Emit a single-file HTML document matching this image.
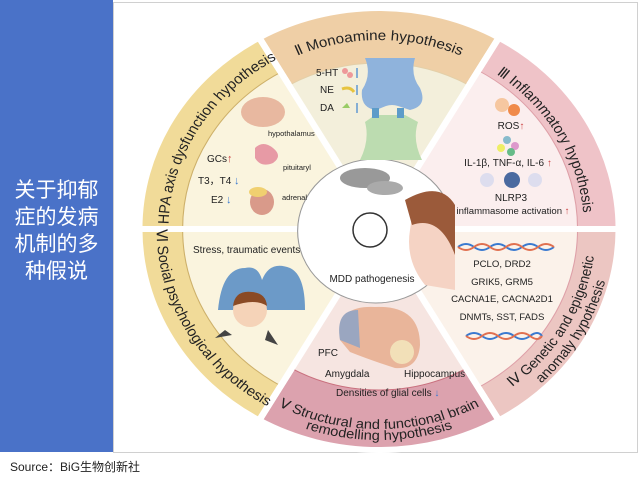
<!DOCTYPE html>
<html><head><meta charset="utf-8"><style>
html,body{margin:0;padding:0;width:640px;height:477px;overflow:hidden;background:#fff;font-family:"Liberation Sans","Noto Sans CJK SC",sans-serif;}
#blue{position:absolute;left:0;top:0;width:113px;height:452px;background:#4a72c8;}
#blue div{position:absolute;left:0;top:176px;width:113px;text-align:center;color:#fff;font-size:21px;line-height:27px;font-family:"Noto Sans CJK SC","WenQuanYi Zen Hei",sans-serif;}
#src{position:absolute;left:10px;top:458px;font-size:12px;color:#222;font-family:"Liberation Sans","Noto Sans CJK SC",sans-serif;}
svg{position:absolute;left:0;top:0;}
</style></head><body>
<div id="blue"><div>关于抑郁<br>症的发病<br>机制的多<br>种假说</div></div>
<div id="src">Source：BiG生物创新社</div>
<svg width="640" height="477" viewBox="0 0 640 477" font-family="Liberation Sans, sans-serif">
<rect x="113.5" y="2.5" width="524" height="450" fill="#fff" stroke="#d0d0d0"/>
<g transform="translate(379,229) scale(1.085,1)">
 <defs>
  <path id="pTop" d="M-94.5,-163.7 A189,189 0 0 1 94.5,-163.7"/>
  <path id="pHPA" d="M-194,0 A194,194 0 0 1 -97,-168"/>
  <path id="pInf" d="M94.5,-163.7 A189,189 0 0 1 189,0"/>
  <path id="pGen1" d="M100,173.2 A200,200 0 0 0 200,0"/>
  <path id="pGen2" d="M107.5,186.2 A215,215 0 0 0 215,0"/>
  <path id="pStr1" d="M-100,173.2 A200,200 0 0 0 100,173.2"/>
  <path id="pStr2" d="M-105.5,182.7 A211,211 0 0 0 105.5,182.7"/>
  <path id="pSoc" d="M-205,0 A205,205 0 0 0 -102.5,177.5"/>
 </defs>
 <g stroke="#fff" stroke-width="6">
  <path d="M0,0 L-110.5,-191.4 A221,221 0 0 1 110.5,-191.4Z" fill="#efcfa6"/>
  <path d="M0,0 L110.5,-191.4 A221,221 0 0 1 221,0Z" fill="#efc3c8"/>
  <path d="M0,0 L221,0 A221,221 0 0 1 110.5,191.4Z" fill="#ecc6c2"/>
  <path d="M0,0 L110.5,191.4 A221,221 0 0 1 -110.5,191.4Z" fill="#dca2ae"/>
  <path d="M0,0 L-110.5,191.4 A221,221 0 0 1 -221,0Z" fill="#f1db99"/>
  <path d="M0,0 L-221,0 A221,221 0 0 1 -110.5,-191.4Z" fill="#f1db99"/>
 </g>
 <g stroke-width="1">
  <path d="M0,0 L-83,-143.8 A166,166 0 0 1 83,-143.8Z" fill="#f3efdb" stroke="#e3cfa8"/>
  <path d="M0,0 L91.5,-158.5 A183,183 0 0 1 183,0Z" fill="#fbeeee" stroke="#dea0a8"/>
  <path d="M0,0 L183,0 A183,183 0 0 1 91.5,158.5Z" fill="#fbf2ea" stroke="#dea0a8"/>
  <path d="M0,0 L80.5,139.4 A161,161 0 0 1 -80.5,139.4Z" fill="#f6e5e1" stroke="#c9707e"/>
  <path d="M0,0 L-90.5,156.8 A181,181 0 0 1 -181,0Z" fill="#faf4de" stroke="#cdb06a"/>
  <path d="M0,0 L-181,0 A181,181 0 0 1 -90.5,-156.8Z" fill="#faf4de" stroke="#cdb06a"/>
 </g>
 <g stroke="#fff" stroke-width="6" fill="none">
  <line x1="0" y1="0" x2="-112" y2="-194"/><line x1="0" y1="0" x2="112" y2="-194"/>
  <line x1="0" y1="0" x2="224" y2="0"/><line x1="0" y1="0" x2="-224" y2="0"/>
  <line x1="0" y1="0" x2="112" y2="194"/><line x1="0" y1="0" x2="-112" y2="194"/>
 </g>
 <circle cx="-3" cy="2" r="72" fill="#fff" stroke="#999" stroke-width="1"/>
 <g font-size="14" fill="#222">
  <text><textPath href="#pTop" startOffset="50%" text-anchor="middle">Ⅱ Monoamine hypothesis</textPath></text>
  <text><textPath href="#pHPA" startOffset="50%" text-anchor="middle">Ⅰ HPA axis dysfunction hypothesis</textPath></text>
  <text><textPath href="#pInf" startOffset="50%" text-anchor="middle">Ⅲ Inflammatory hypothesis</textPath></text>
  <text font-size="13.5"><textPath href="#pGen1" startOffset="50%" text-anchor="middle">Ⅳ Genetic and epigenetic</textPath></text>
  <text font-size="13.5"><textPath href="#pGen2" startOffset="50%" text-anchor="middle">anomaly hypothesis</textPath></text>
  <text font-size="13.5"><textPath href="#pStr1" startOffset="50%" text-anchor="middle">Ⅴ Structural and functional brain</textPath></text>
  <text font-size="13.5"><textPath href="#pStr2" startOffset="50%" text-anchor="middle">remodelling hypothesis</textPath></text>
  <text><textPath href="#pSoc" startOffset="50%" text-anchor="middle">Ⅵ Social psychological hypothesis</textPath></text>
 </g>
</g>
<!-- Monoamine content -->
<path d="M365,58 Q372,75 362,90 Q360,108 376,110 L386,106 Q392,104 398,106 L410,110 Q428,106 420,88 Q410,75 415,58Z" fill="#8fb3dc"/>
<path d="M360,160 Q370,140 365,122 L375,115 L405,115 L418,122 Q412,140 422,160Z" fill="#bcdcb0"/>
<rect x="372" y="108" width="7" height="10" fill="#5d9cc9"/><rect x="397" y="108" width="7" height="10" fill="#5d9cc9"/>
<g font-size="10" fill="#222"><text x="316" y="76">5-HT</text><text x="320" y="93">NE</text><text x="320" y="111">DA</text></g>
<circle cx="345" cy="71" r="3" fill="#e99"/><circle cx="350" cy="75" r="3" fill="#e99"/>
<path d="M342,89 Q350,86 354,92" stroke="#e7c440" stroke-width="3" fill="none"/>
<path d="M342,108 l5,-5 l3,5z" fill="#9c6"/>
<g stroke="#4a8ad0" stroke-width="1.3" fill="#4a8ad0"><line x1="357" y1="68" x2="357" y2="78"/><line x1="357" y1="85" x2="357" y2="95"/><line x1="357" y1="103" x2="357" y2="113"/></g>
<!-- HPA -->
<ellipse cx="263" cy="112" rx="22" ry="15" fill="#e8b8a0"/>
<path d="M255,148 q8,-8 18,0 q10,8 0,15 q-12,5 -18,-5z" fill="#e79aa5"/>
<ellipse cx="262" cy="202" rx="12" ry="13" fill="#d99a8a"/><ellipse cx="258" cy="192" rx="9" ry="5" fill="#f0d070"/>
<g font-size="10" fill="#222"><text x="207" y="162">GCs</text><text x="198" y="184">T3，T4</text><text x="211" y="203">E2</text></g>
<g font-size="7.5" fill="#222"><text x="268" y="136">hypothalamus</text><text x="283" y="170">pituitaryl</text><text x="282" y="200">adrenal</text></g>
<text x="227" y="162" font-size="11" fill="#c44">↑</text><text x="234" y="184" font-size="11" fill="#3a7ad0">↓</text><text x="226" y="203" font-size="11" fill="#3a7ad0">↓</text>
<!-- Inflammatory -->
<circle cx="502" cy="105" r="7" fill="#f6c7a0"/><circle cx="514" cy="110" r="6" fill="#f08a4a"/>
<circle cx="507" cy="140" r="4" fill="#8bc"/><circle cx="515" cy="146" r="4" fill="#d9c"/><circle cx="501" cy="148" r="4" fill="#ee6"/><circle cx="511" cy="152" r="4" fill="#6b8"/>
<circle cx="487" cy="180" r="7" fill="#dde"/><circle cx="512" cy="180" r="8" fill="#4a6aa0"/><circle cx="535" cy="180" r="7" fill="#dde"/>
<g font-size="10" fill="#222" text-anchor="middle"><text x="511" y="129">ROS<tspan fill="#c44">↑</tspan></text><text x="508" y="166">IL-1β, TNF-α, IL-6 <tspan fill="#c44">↑</tspan></text><text x="511" y="201">NLRP3</text><text x="513" y="214" font-size="9.6">inflammasome activation <tspan fill="#c44">↑</tspan></text></g>
<!-- center -->
<ellipse cx="365" cy="178" rx="25" ry="10" fill="#999"/><ellipse cx="385" cy="188" rx="18" ry="7" fill="#aaa"/>
<circle cx="370" cy="230" r="17" fill="none" stroke="#333" stroke-width="1.5"/>
<path d="M415,195 Q450,190 455,230 L455,290 L425,285 Q405,260 410,230Z" fill="#f5d3c4"/>
<path d="M405,200 Q440,180 455,205 L455,255 Q440,215 412,225Z" fill="#9b5a3a"/>
<text x="372" y="282" font-size="10" fill="#222" text-anchor="middle">MDD pathogenesis</text>
<!-- Genetic -->
<path d="M458,247 q8,-6 16,0 t16,0 t16,0 t16,0 t16,0 t16,0" stroke="#3a7ad0" fill="none" stroke-width="2"/>
<path d="M458,247 q8,6 16,0 t16,0 t16,0 t16,0 t16,0 t16,0" stroke="#e07050" fill="none" stroke-width="2"/>
<path d="M466,336 q8,-6 16,0 t16,0 t16,0 t16,0 t12,0" stroke="#3a7ad0" fill="none" stroke-width="2"/>
<path d="M466,336 q8,6 16,0 t16,0 t16,0 t16,0 t12,0" stroke="#e07050" fill="none" stroke-width="2"/>
<g font-size="9.6" fill="#222" text-anchor="middle"><text x="502" y="267">PCLO, DRD2</text><text x="502" y="285">GRIK5, GRM5</text><text x="502" y="302">CACNA1E, CACNA2D1</text><text x="502" y="320">DNMTs, SST, FADS</text></g>
<!-- Structural -->
<path d="M340,340 Q335,305 375,307 Q420,305 420,345 Q418,370 395,368 Q370,360 350,352Z" fill="#e9b59a"/>
<path d="M340,340 Q335,310 358,310 L360,348Z" fill="#9aa6c0"/>
<circle cx="402" cy="352" r="12" fill="#f2e0b8"/>
<g font-size="10" fill="#222"><text x="318" y="356">PFC</text><text x="325" y="377">Amygdala</text><text x="404" y="377">Hippocampus</text><text x="336" y="396">Densities of glial cells <tspan fill="#3a7ad0">↓</tspan></text></g>
<!-- Social -->
<path d="M218,310 Q222,268 245,268 Q258,265 262,280 Q270,260 290,268 Q305,275 305,310Z" fill="#6c9ac8"/>
<circle cx="250" cy="310" r="17" fill="#f5d3b8"/><path d="M233,306 Q235,290 252,292 Q266,293 267,306 Q255,298 233,306Z" fill="#8a4a25"/>
<path d="M225,330 L215,338 L232,335Z M268,330 L278,345 L265,340Z" fill="#444"/>
<text x="193" y="253" font-size="10" fill="#222">Stress, traumatic events</text>
</svg>
</body></html>
